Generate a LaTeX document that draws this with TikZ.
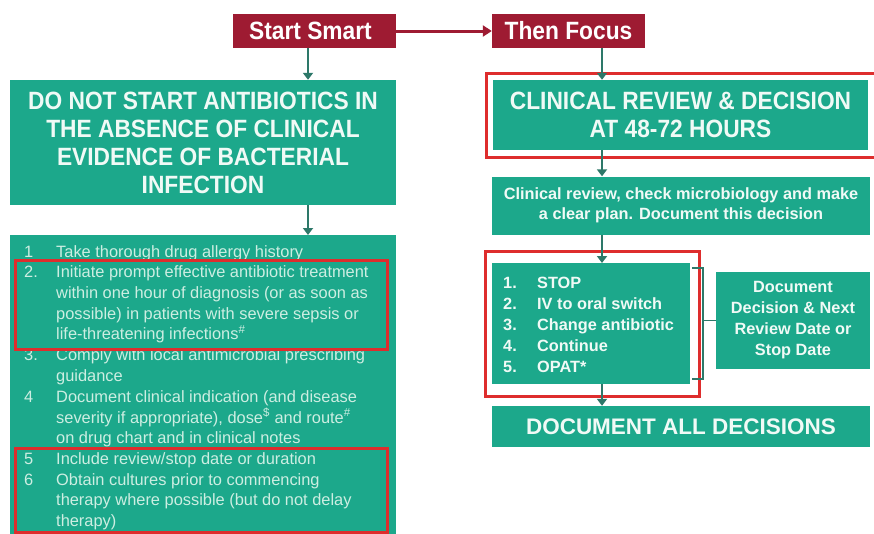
\documentclass[tikz,border=0pt]{standalone}
\usepackage{fontspec}
\setmainfont{Liberation Sans}
\newfontfamily\narrowb[FakeStretch=0.91]{Liberation Sans}
\usetikzlibrary{arrows.meta}
\definecolor{boxgreen}{RGB}{28,168,139}
\definecolor{darkred}{RGB}{158,27,50}
\definecolor{outred}{RGB}{222,45,45}
\definecolor{linkteal}{RGB}{45,120,105}
\definecolor{listtxt}{RGB}{205,238,226}
\definecolor{softwhite}{RGB}{240,250,246}
\begin{document}
\begin{tikzpicture}[x=1pt,y=-1pt,
  gbox/.style={fill=boxgreen, draw=none, inner sep=0pt, text=softwhite, align=center},
  rbox/.style={fill=darkred, draw=none, inner sep=0pt, text=white, align=center},
  outl/.style={draw=outred, line width=3pt},
  link/.style={draw=linkteal, line width=1.8pt, -{Triangle[length=7pt,width=10pt]}},
  brk/.style={draw=linkteal, line width=1.4pt},
  headf/.style={font=\narrowb\bfseries\fontsize{25}{28}\selectfont},
  medf/.style={font=\bfseries\fontsize{16.3}{20.5}\selectfont},
]
\fill[white] (0,0) rectangle (874,533);
\useasboundingbox (0,0) rectangle (874,533);

% top red boxes
\node[rbox, headf, minimum width=163pt, minimum height=34pt] (startsmart) at (314.5,31) {\hspace*{-8pt}Start Smart};
\node[rbox, headf, minimum width=153pt, minimum height=34pt] (thenfocus) at (568.5,31) {Then Focus};
\draw[draw=darkred, line width=3pt, -{Triangle[length=9pt,width=11pt]}] (startsmart.east) -- (thenfocus.west);

% left column
\node[gbox, headf, minimum width=386pt, minimum height=125pt] (dontstart) at (203,142.5)
  {DO NOT START ANTIBIOTICS IN\\THE ABSENCE OF CLINICAL\\EVIDENCE OF BACTERIAL\\INFECTION};
\node[gbox, anchor=north west, minimum width=386pt, minimum height=310pt] (llist) at (10,235) {};
\node[anchor=north west, inner sep=0pt, text=listtxt, font=\fontsize{16.4}{20.7}\selectfont] (llisttext) at (24,242.5)
  {\begin{tabular}{@{}p{32pt}@{}l@{}}
  1  & Take thorough drug allergy history\\
  2. & Initiate prompt effective antibiotic treatment\\
     & within one hour of diagnosis (or as soon as\\
     & possible) in patients with severe sepsis or\\
     & life-threatening infections\textsuperscript{\#}\\
  3. & Comply with local antimicrobial prescribing\\
     & guidance\\
  4  & Document clinical indication (and disease\\
     & severity if appropriate), dose\textsuperscript{\$} and route\textsuperscript{\#}\\
     & on drug chart and in clinical notes\\
  5  & Include review/stop date or duration\\
  6  & Obtain cultures prior to commencing\\
     & therapy where possible (but do not delay\\
     & therapy)
  \end{tabular}};
\draw[outl] (15,260) rectangle (387,349);
\draw[outl] (15,448) rectangle (387,532);

\coordinate (lx) at (308,0);
\draw[link] (startsmart.south -| lx) -- (dontstart.north -| lx);
\draw[link] (dontstart.south -| lx) -- (llist.north -| lx);

% right column
\node[gbox, headf, minimum width=375pt, minimum height=70pt] (clinical) at (680.5,115)
  {CLINICAL REVIEW \& DECISION\\AT 48-72 HOURS};
\draw[outl] (486,73) rectangle (876,157);
\node[gbox, medf, minimum width=378pt, minimum height=58pt] (review) at (681,205.5)
  {Clinical review, check microbiology and make\\a clear plan. Document this decision};
\node[gbox, anchor=north west, minimum width=198pt, minimum height=121pt] (rlist) at (492,263) {};
\node[anchor=north west, inner sep=0pt, text=softwhite, font=\bfseries\fontsize{16.3}{21}\selectfont] (rlisttext) at (503,273.5)
  {\begin{tabular}{@{}p{34pt}@{}l@{}}
  1. & STOP\\
  2. & IV to oral switch\\
  3. & Change antibiotic\\
  4. & Continue\\
  5. & OPAT*
  \end{tabular}};
\draw[outl] (485,251) rectangle (699,396);
\node[gbox, minimum width=154pt, minimum height=97pt, font=\bfseries\fontsize{16.3}{21}\selectfont] (docbox) at (793,320.5)
  {Document\\Decision \& Next\\Review Date or\\Stop Date};
\draw[brk] (692,268) -- (703,268) -- (703,379) -- (692,379);
\draw[brk] (703,320.5) -- (docbox.west);
\node[gbox, font=\bfseries\fontsize{22.5}{26}\selectfont, minimum width=378pt, minimum height=41pt] (docall) at (681,426.5)
  {DOCUMENT ALL DECISIONS};

\coordinate (rx) at (602,0);
\draw[link] (thenfocus.south -| rx) -- (clinical.north -| rx);
\draw[link] (clinical.south -| rx) -- (review.north -| rx);
\draw[link] (review.south -| rx) -- (rlist.north -| rx);
\draw[link] (rlist.south -| rx) -- (docall.north -| rx);
\end{tikzpicture}
\end{document}
